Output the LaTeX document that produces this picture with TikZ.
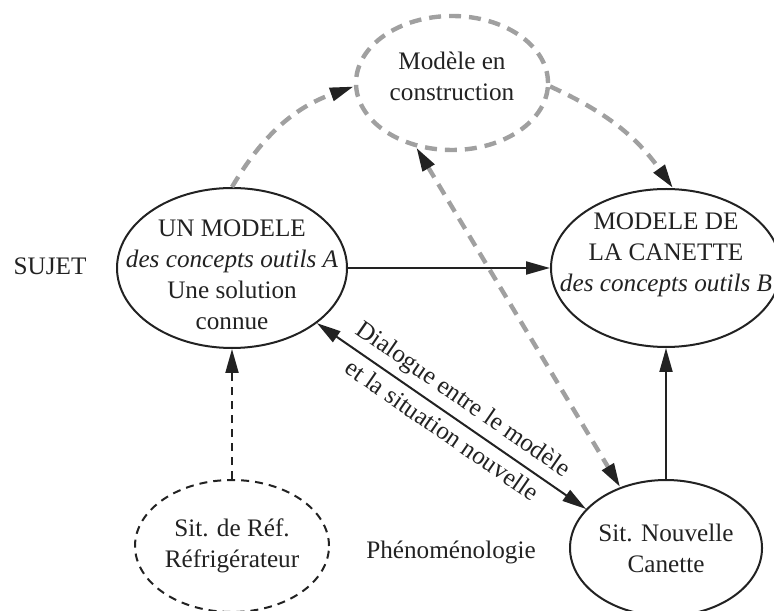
\documentclass[tikz,border=0pt]{standalone}
\usepackage{fontspec}
\setmainfont{Liberation Serif}
\usetikzlibrary{arrows.meta,shapes.geometric}
\definecolor{ink}{RGB}{34,34,34}
\definecolor{dashgray}{RGB}{160,160,160}

\begin{document}
\begin{tikzpicture}[x=0.5pt, y=0.5pt,
  >={Triangle[length=12pt,width=6.5pt,color=ink]},
  every node/.style={font=\fontsize{12.6}{15.5}\selectfont, text=ink},
  ell/.style={ellipse, draw=ink, line width=1pt, inner sep=0pt},
  txt/.style={align=center, inner sep=0pt},
  conn/.style={draw=ink, line width=1pt},
  greyconn/.style={dashgray, line width=2.2pt, dash pattern=on 6pt off 4pt}]
  \useasboundingbox (0,0) rectangle (774,610);
  \clip (0,0) rectangle (774,610);
  % models
  \node[ell, minimum width=115pt, minimum height=80pt] (modA) at (232,342) {};
  \node[txt] (modAtxt) at (modA) {\mbox{}\\UN MODELE\\\textit{des concepts outils A}\\Une solution\\connue};
  \node[ell, minimum width=115pt, minimum height=79pt] (modB) at (666,342) {};
  \node[txt] (modBtxt) at (modB) {MODELE DE\\LA CANETTE\\\textit{des concepts outils B}\\\mbox{}};
  \node[ell, draw=dashgray, line width=2.2pt, dash pattern=on 6pt off 4pt,
    minimum width=96pt, minimum height=67pt] (constr) at (452,527) {};
  \node[txt] (constrtxt) at (452,534) {Modèle en\\construction};
  % situations
  \node[ell, dash pattern=on 4pt off 3pt, minimum width=97pt, minimum height=66pt] (ref) at (232,64) {};
  \node[txt] (reftxt) at (ref) {Sit. de Réf.\\Réfrigérateur};
  \node[ell, minimum width=96pt, minimum height=68pt] (sitN) at (666,62) {};
  \node[txt] (sitNtxt) at (sitN) {Sit. Nouvelle\\Canette};
  % side labels
  \node (sujet) at (50,344) {SUJET};
  \node (pheno) at (451,58) {Phénoménologie};
  % connectors
  \draw[conn,->] (modA.east) -- (modB.west);
  \draw[conn,->] (sitN.north) -- (modB.south);
  \draw[conn,->,dash pattern=on 4pt off 3pt] (ref.north) -- (modA.south);
  \draw[conn,<->] (modA.327) -- (sitN.154)
    node[midway,sloped,above] (dlgA) {Dialogue entre le modèle}
    node[midway,sloped,below] (dlgB) {et la situation nouvelle};
  \draw[greyconn,->] (modA.north) to[bend left=20] (constr.182);
  \draw[greyconn,->] (constr.358) to[bend left=15] (modB.85);
  \draw[greyconn,<->] (constr.241) -- (sitN.127);
\end{tikzpicture}
\end{document}
